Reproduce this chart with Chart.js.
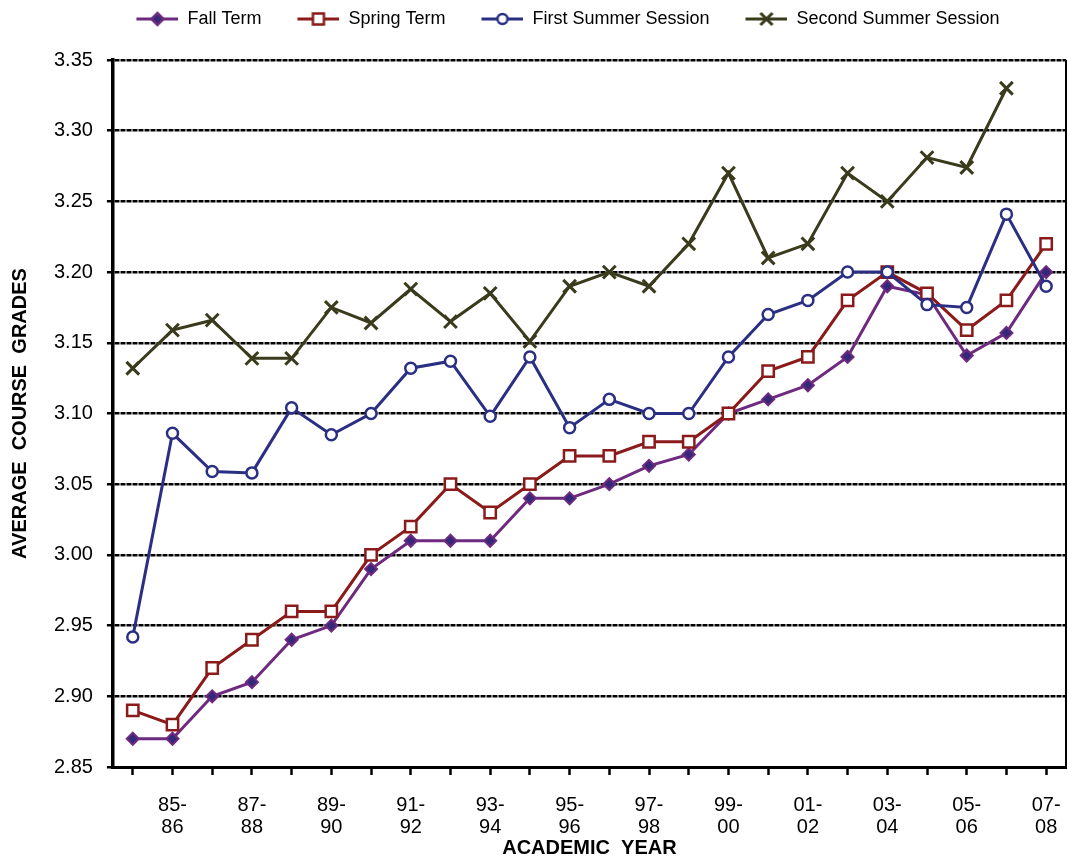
<!DOCTYPE html>
<html>
<head>
<meta charset="utf-8">
<script src="https://cdn.jsdelivr.net/npm/chart.js@4/dist/chart.umd.min.js"></script>
<style>
  body { margin: 0; background: #fff; }
  #wrap { width: 1068px; height: 860px; position: relative; }
</style>
</head>
<body>
<div id="wrap"><canvas id="gradesChart"></canvas></div>
<script>
// academic years, one per category
var years = ['84-85', '85-86', '86-87', '87-88', '88-89', '89-90', '90-91', '91-92', '92-93', '93-94',
             '94-95', '95-96', '96-97', '97-98', '98-99', '99-00', '00-01', '01-02', '02-03', '03-04',
             '04-05', '05-06', '06-07', '07-08'];

var fallTerm = [2.87, 2.87, 2.90, 2.91, 2.94, 2.95, 2.99, 3.01, 3.01, 3.01, 3.04, 3.04,
                3.05, 3.063, 3.071, 3.10, 3.11, 3.12, 3.14, 3.19, 3.184, 3.141, 3.157, 3.20];
var springTerm = [2.89, 2.88, 2.92, 2.94, 2.96, 2.96, 3.00, 3.02, 3.05, 3.03, 3.05, 3.07,
                  3.07, 3.08, 3.08, 3.10, 3.13, 3.14, 3.18, 3.20, 3.185, 3.159, 3.18, 3.22];
var firstSummer = [2.942, 3.086, 3.059, 3.058, 3.104, 3.085, 3.10, 3.132, 3.137, 3.098, 3.14, 3.09,
                   3.11, 3.10, 3.10, 3.14, 3.17, 3.18, 3.20, 3.20, 3.177, 3.175, 3.241, 3.19];
var secondSummer = [3.132, 3.159, 3.166, 3.139, 3.139, 3.175, 3.164, 3.188, 3.165, 3.185, 3.151, 3.19,
                    3.20, 3.19, 3.22, 3.27, 3.21, 3.22, 3.27, 3.25, 3.281, 3.274, 3.33, null];

var FONT = '"Liberation Sans", Arial, sans-serif';

// small line+marker icons for the legend (blank gap on the left acts as item spacing)
function legendIcon(shape, line, fill) {
    var c = document.createElement('canvas');
    c.width = 68; c.height = 16;
    var g = c.getContext('2d');
    g.strokeStyle = line; g.lineWidth = 3;
    g.beginPath(); g.moveTo(26, 8); g.lineTo(68, 8); g.stroke();
    g.fillStyle = fill;
    g.lineWidth = 2.5;
    g.beginPath();
    var cx = 47;
    if (shape === 'diamond') {
        g.moveTo(cx, 2); g.lineTo(cx + 6, 8); g.lineTo(cx, 14); g.lineTo(cx - 6, 8); g.closePath();
        g.fill(); g.stroke();
    } else if (shape === 'square') {
        g.rect(cx - 5.5, 2.5, 11, 11); g.fill(); g.stroke();
    } else if (shape === 'circle') {
        g.arc(cx, 8, 5, 0, Math.PI * 2); g.fill(); g.stroke();
    } else {
        g.lineWidth = 3;
        g.moveTo(cx - 6, 2); g.lineTo(cx + 6, 14); g.moveTo(cx + 6, 2); g.lineTo(cx - 6, 14); g.stroke();
    }
    return c;
}

var icons = [
    legendIcon('diamond', '#6E2A7E', '#33287A'),
    legendIcon('square', '#8B1A1A', '#ffffff'),
    legendIcon('circle', '#2B2F84', '#ffffff'),
    legendIcon('cross', '#3A3A1C', '#3A3A1C')
];

// right edge of the plot frame
var frameRight = {
    id: 'frameRight',
    afterDatasetsDraw: function (chart) {
        var a = chart.chartArea, ctx = chart.ctx;
        ctx.save();
        ctx.strokeStyle = '#000';
        ctx.lineWidth = 2;
        ctx.beginPath();
        ctx.moveTo(a.right, a.top);
        ctx.lineTo(a.right, a.bottom);
        ctx.stroke();
        ctx.restore();
    }
};

// extra room under the legend, and nudge it a bit right like the original
var legendGap = {
    id: 'legendGap',
    beforeInit: function (chart) {
        var fit = chart.legend.fit;
        chart.legend.fit = function () {
            fit.bind(chart.legend)();
            this.height += 22;
        };
    },
    afterLayout: function (chart) {
        chart.legend.left += 36;
    }
};

var ctx = document.getElementById('gradesChart').getContext('2d');
var gradesChart = new Chart(ctx, {
    type: 'line',
    data: {
        labels: years,
        datasets: [{
            label: 'Fall Term',
            data: fallTerm,
            borderColor: '#6E2A7E',
            backgroundColor: '#33287A',
            pointBorderColor: '#6E2A7E',
            pointBackgroundColor: '#33287A',
            pointStyle: 'rectRot',
            pointRadius: 6,
            pointBorderWidth: 2,
            borderWidth: 3,
            order: 4
        }, {
            label: 'Spring Term',
            data: springTerm,
            borderColor: '#8B1A1A',
            backgroundColor: '#ffffff',
            pointBorderColor: '#8B1A1A',
            pointBackgroundColor: '#ffffff',
            pointStyle: 'rect',
            pointRadius: 8,
            pointBorderWidth: 2.5,
            borderWidth: 3,
            order: 3
        }, {
            label: 'First Summer Session',
            data: firstSummer,
            borderColor: '#2B2F84',
            backgroundColor: '#ffffff',
            pointBorderColor: '#2B2F84',
            pointBackgroundColor: '#ffffff',
            pointStyle: 'circle',
            pointRadius: 5.5,
            pointBorderWidth: 2.5,
            borderWidth: 3,
            order: 2
        }, {
            label: 'Second Summer Session',
            data: secondSummer,
            borderColor: '#3A3A1C',
            backgroundColor: '#3A3A1C',
            pointBorderColor: '#3A3A1C',
            pointStyle: 'crossRot',
            pointRadius: 9,
            pointBorderWidth: 3,
            borderWidth: 3,
            order: 1
        }]
    },
    options: {
        responsive: true,
        maintainAspectRatio: false,
        animation: false,
        layout: { autoPadding: false, padding: { top: 0, right: 2, bottom: 0, left: 8 } },
        plugins: {
            tooltip: { enabled: false },
            legend: {
                position: 'top',
                labels: {
                    font: { family: FONT, size: 18 },
                    color: '#000',
                    usePointStyle: true,
                    pointStyleWidth: 68,
                    padding: 10,
                    sort: function (a, b) { return a.datasetIndex - b.datasetIndex; },
                    generateLabels: function (chart) {
                        var items = Chart.defaults.plugins.legend.labels.generateLabels(chart);
                        items.forEach(function (it) { it.pointStyle = icons[it.datasetIndex]; });
                        return items;
                    }
                }
            }
        },
        scales: {
            x: {
                offset: true,
                afterFit: function (scale) {
                    scale.paddingLeft = 0;
                    scale.paddingRight = 0;
                },
                grid: {
                    drawOnChartArea: false,
                    drawTicks: true,
                    tickLength: 8,
                    tickColor: '#000',
                    tickWidth: 2.5
                },
                border: { display: true, color: '#000', width: 3 },
                ticks: {
                    autoSkip: false,
                    maxRotation: 0,
                    padding: 19,
                    color: '#000',
                    font: { family: FONT, size: 20, lineHeight: 1.1 },
                    callback: function (val, i) {
                        if (i % 2 === 0) return '';
                        var parts = years[i].split('-');
                        return [parts[0] + '-', parts[1]];
                    }
                },
                title: {
                    display: true,
                    text: 'ACADEMIC  YEAR',
                    color: '#000',
                    font: { family: FONT, size: 20, weight: 'bold' },
                    padding: { top: -21, bottom: 0 }
                }
            },
            y: {
                min: 2.85,
                max: 3.35,
                ticks: {
                    stepSize: 0.05,
                    padding: 14,
                    color: '#000',
                    font: { family: FONT, size: 20 },
                    callback: function (v) { return v.toFixed(2); }
                },
                grid: {
                    color: '#000',
                    lineWidth: 2.5,
                    tickLength: 6,
                    tickColor: '#000',
                    tickWidth: 2.5
                },
                border: { display: true, color: '#000', width: 3.5, dash: [5, 1] },
                title: {
                    display: true,
                    text: 'AVERAGE  COURSE  GRADES',
                    color: '#000',
                    font: { family: FONT, size: 20, weight: 'bold' },
                    padding: { top: 0, bottom: 8 }
                }
            }
        }
    },
    plugins: [frameRight, legendGap]
});
</script>
</body>
</html>
